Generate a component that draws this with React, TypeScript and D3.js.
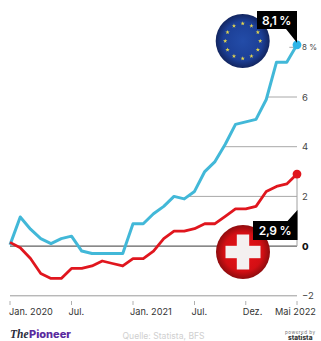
import React from "react";
import * as d3 from "d3";

// Monthly inflation rates in percent, January 2020 to May 2022
const euroArea = [0.05, 1.17, 0.68, 0.3, 0.1, 0.3, 0.4, -0.2, -0.3, -0.3, -0.3, -0.3, 0.9, 0.9, 1.3, 1.6, 2.0, 1.9, 2.2, 3.0, 3.4, 4.1, 4.9, 5.0, 5.1, 5.9, 7.4, 7.4, 8.1];
const switzerland = [0.15, -0.07, -0.5, -1.1, -1.3, -1.3, -0.9, -0.9, -0.8, -0.6, -0.7, -0.8, -0.5, -0.5, -0.2, 0.3, 0.6, 0.6, 0.7, 0.9, 0.9, 1.2, 1.5, 1.5, 1.6, 2.2, 2.4, 2.5, 2.9];

const monthTicks = [0, 6, 12, 18, 23, 28];
const monthLabels = ["Jan. 2020", "Jul.", "Jan. 2021", "Jul.", "Dez.", "Mai 2022"];
const gridValues = [6, 4, 2];
const euroLabel = "8,1 %";
const swissLabel = "2,9 %";
const sourceText = "Quelle: Statista, BFS";

const FONT = "Inter, 'Noto Sans', sans-serif";
const BLUE = "#42b8d8";
const RED = "#e0161e";

const x = d3.scaleLinear().domain([0, 28]).range([10, 297]);
const y = d3.scaleLinear().domain([-2, 8]).range([295.8, 47.3]);

const lineOf = d3
  .line<number>()
  .x((_, i) => x(i))
  .y((v) => y(v))
  .curve(d3.curveLinear);

// Covers the grid above the euro-area line so gridlines only show beneath it
const skyMask = d3
  .area<number>()
  .x((_, i) => x(i))
  .y0(0)
  .y1((v) => y(v));

const starPath = d3.symbol().type(d3.symbolStar).size(6)() as string;
const starAngles = d3.range(12).map((i) => (i * Math.PI) / 6);

export default function App() {
  const last = euroArea.length - 1;
  const euroX = x(last);
  const euroY = y(euroArea[last]);
  const swissY = y(switzerland[last]);
  const eu = { cx: 242.7, cy: 41, r: 27 };
  const ch = { cx: 243, cy: 252, r: 27 };

  return (
    <svg
      width={321}
      height={341}
      viewBox="0 0 321 341"
      style={{ position: "absolute", left: 0, top: 0, background: "#fff" }}
      fontFamily={FONT}
    >
      <defs>
        <radialGradient id="euFill" cx="50%" cy="50%" r="50%">
          <stop offset="0%" stopColor="#234ca8" />
          <stop offset="72%" stopColor="#1c3f96" />
          <stop offset="100%" stopColor="#12255f" />
        </radialGradient>
        <radialGradient id="chFill" cx="50%" cy="50%" r="50%">
          <stop offset="0%" stopColor="#ea1218" />
          <stop offset="72%" stopColor="#d30f14" />
          <stop offset="100%" stopColor="#8e0c0e" />
        </radialGradient>
      </defs>

      {gridValues.map((v) => (
        <line key={v} x1={x(0)} x2={x(28)} y1={y(v)} y2={y(v)} stroke="#a8a8a8" strokeWidth={1} />
      ))}
      <path d={skyMask(euroArea) ?? ""} fill="#fff" />
      <line x1={x(27.25)} x2={x(28)} y1={y(8)} y2={y(8)} stroke="#a8a8a8" strokeWidth={1} />

      {/* Zero line and lower axis run the full width */}
      <line x1={x(0)} x2={x(28)} y1={y(0)} y2={y(0)} stroke="#3a3a3a" strokeWidth={1} />
      <line x1={x(0)} x2={x(28)} y1={y(-2)} y2={y(-2)} stroke="#9a9a9a" strokeWidth={1} />
      <line x1={euroX} x2={euroX} y1={swissY} y2={y(0)} stroke="#a0a0a0" strokeWidth={1} />

      {monthTicks.map((m, i) => {
        const isFirst = i === 0;
        const isLast = i === monthTicks.length - 1;
        return (
          <g key={m}>
            <line x1={x(m)} x2={x(m)} y1={301} y2={305} stroke="#b0b0b0" strokeWidth={1} />
            <text
              x={isLast ? x(m) - 1.5 : isFirst ? x(m) - 1 : x(m) - 3}
              y={315}
              fontSize={9.2}
              fill="#333"
              textAnchor={isLast ? "middle" : "start"}
            >
              {monthLabels[i]}
            </text>
          </g>
        );
      })}

      {gridValues.map((v) => (
        <text key={v} x={302} y={y(v) + 3.5} fontSize={9.5} fill="#444">
          {v}
        </text>
      ))}
      <text x={302} y={y(8) + 3} fontSize={8} fill="#444">
        8 %
      </text>
      <text x={302} y={y(0) + 3.5} fontSize={9.5} fontWeight={800} fill="#111">
        0
      </text>
      <text x={302} y={y(-2) + 3.5} fontSize={9.5} fill="#444">
        −2
      </text>

      <path d={lineOf(euroArea) ?? ""} fill="none" stroke={BLUE} strokeWidth={3} strokeLinejoin="round" />
      <path d={lineOf(switzerland) ?? ""} fill="none" stroke={RED} strokeWidth={2.8} strokeLinejoin="round" />
      <circle cx={euroX} cy={euroY} r={4.4} fill="#2db5e8" />
      <circle cx={euroX} cy={swissY} r={4.4} fill={RED} />

      {/* Euro-area flag badge */}
      <circle cx={eu.cx} cy={eu.cy} r={eu.r} fill="url(#euFill)" />
      {starAngles.map((a, i) => (
        <path
          key={i}
          d={starPath}
          fill="#e4d64e"
          transform={`translate(${eu.cx + 17.5 * Math.sin(a)},${eu.cy - 17.5 * Math.cos(a)})`}
        />
      ))}

      {/* Swiss flag badge */}
      <circle cx={ch.cx} cy={ch.cy} r={ch.r} fill="url(#chFill)" />
      <rect x={ch.cx - 17.5} y={ch.cy - 6.2} width={35} height={12.4} fill="#f4f0f0" />
      <rect x={ch.cx - 6.2} y={ch.cy - 17.5} width={12.4} height={35} fill="#f4f0f0" />

      {/* Value callouts */}
      <path d={`M257,11H297V${euroY - 2}L286,29H257Z`} fill="#000" />
      <text x={276.5} y={24.5} fontSize={12} fontWeight={600} fill="#fff" textAnchor="middle" letterSpacing={-0.3}>
        {euroLabel}
      </text>
      <path d="M253,221H287.5L297.5,210V240H253Z" fill="#000" />
      <text x={275} y={234.8} fontSize={12} fontWeight={600} fill="#fff" textAnchor="middle" letterSpacing={-0.3}>
        {swissLabel}
      </text>

      {/* Footer */}
      <text x={10} y={338.2} fontFamily="'Liberation Serif', serif" fontStyle="italic" fontSize={11.5} fontWeight={700} fill="#2a2a3a">
        The
      </text>
      <text x={29} y={338.2} fontSize={11} fontWeight={800} fill="#5a2a9e">
        Pioneer
      </text>
      <text x={122.5} y={338.8} fontSize={8.6} fill="#cfcfcf">
        {sourceText}
      </text>
      <text x={285} y={334} fontSize={4.6} fill="#777" letterSpacing={0.5}>
        powered by
      </text>
      <text x={288} y={339.5} fontSize={6.5} fontWeight={800} fill="#333">
        statista
      </text>
    </svg>
  );
}
